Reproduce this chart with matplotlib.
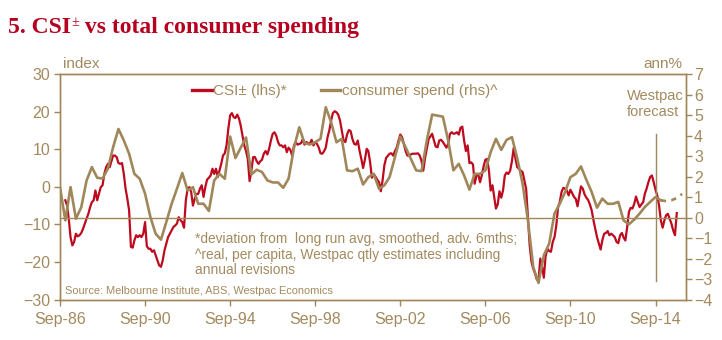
import datetime as dt

import numpy as np
import pandas as pd
import matplotlib
matplotlib.use('Agg')
import matplotlib.pyplot as plt
import matplotlib.dates as mdates

# colours
red = '#BE0A1E'
tan = '#A0875A'
txt = '#A38A5E'
title_red = '#B5001F'

# CSI, deviation from long run avg (lhs), monthly from Dec-86
csi = [
    -3.6, -5.0, -8.9, -13.4, -15.6, -14.7, -12.5, -13.2, -12.9, -12.3,
    -11.2, -9.8, -8.5, -7.2, -5.4, -4.1, -3.6, -1.0, -3.6, -1.9,
    -0.1, 0.4, 3.4, 5.2, 6.1, 5.2, 6.8, 8.3, 8.3, 7.9,
    6.3, 6.1, 6.3, 3.4, -0.5, -3.2, -6.3, -16.0, -16.2, -14.3,
    -12.9, -13.4, -12.9, -13.4, -12.5, -9.4, -15.8, -16.5, -16.5, -17.3,
    -16.9, -18.2, -19.6, -20.9, -21.3, -19.6, -16.9, -15.1, -13.4, -12.5,
    -11.6, -10.7, -10.3, -9.8, -8.1, -8.9, -9.4, -10.9, -3.6, -0.5,
    -0.1, -1.4, -5.0, -3.2, -1.9, -1.9, -0.5, 0.4, -2.7, -0.1,
    1.9, 2.4, 3.0, 4.8, 3.4,
    # Dec-93 on
    4.8, 2.6, 4.3, 6.1, 8.3, 8.9, 11.0, 15.5, 19.0, 19.6,
    18.5, 18.3, 19.2, 18.1, 16.3, 13.6, 11.0, 9.5, 7.4, 1.5,
    4.3, 7.9, 7.9, 6.8, 6.1, 6.8, 7.2, 8.8, 9.5, 8.6,
    10.1, 12.3, 14.1, 14.5, 13.6, 11.9, 11.0, 11.0, 10.5, 11.0,
    9.2, 10.4, 9.8, 8.3, 11.0, 11.9, 11.2, 11.4, 11.6, 12.7,
    11.2, 11.9, 11.6, 11.4, 12.5, 11.0, 11.9, 11.4, 10.4, 8.9,
    8.8, 9.5, 10.4, 13.2, 15.0, 17.6, 19.6, 20.1, 19.8, 19.2,
    17.6, 15.0, 12.3, 11.9, 13.9, 15.1, 14.8, 12.7, 11.4, 11.2,
    12.3, 9.6, 7.4, 5.0, 7.2, 10.1, 9.5,
    # Apr-01 on
    6.5, 2.4, 3.4, 2.7, 1.9, 1.2, -1.2, 1.7, 5.7, 7.7,
    8.3, 8.8, 8.9, 8.3, 9.5, 10.4, 12.3, 13.9, 13.2, 11.4,
    9.5, 8.3, 8.3, 8.6, 8.8, 8.8, 8.8, 8.9, 8.3, 6.8,
    4.3, 7.7, 10.1, 12.7, 13.4, 14.1, 12.3, 10.7, 10.5, 12.3,
    12.5, 11.9, 11.2, 10.4, 11.4, 14.1, 14.5, 14.1, 14.2, 14.5,
    13.9, 15.7, 16.0, 12.3, 9.5, 11.0, 6.3, 6.5, 5.9, 0.8,
    3.0, 3.4, 1.2, 3.0, 5.4, 7.2, 7.4, 4.3, -1.0, 0.4,
    -2.9, -5.8, -4.7, -1.2, -2.9, -1.0, 3.0, 3.8, 3.4, 4.3,
    6.8, 10.4, 7.4, 5.2, 4.8,
    # May-08 on
    4.3, 3.9, 1.7, -0.5, -8.1, -15.6, -20.0, -21.8, -23.1, -24.7,
    -25.0, -19.1, -21.3, -24.2, -18.5, -16.5, -17.1, -17.3, -14.7, -13.4,
    -10.3, -5.4, -4.1, -1.4, -0.3, -0.5, -1.0, -2.3, -0.8, -1.7,
    -2.7, -3.2, -5.2, -2.3, 0.1, -0.5, -2.0, -2.9, -3.5, -4.7,
    -6.3, -8.9, -11.2, -13.4, -15.1, -16.7, -14.3, -12.5, -12.3, -11.8,
    -12.9, -12.5, -12.9, -13.4, -14.7, -15.0, -12.9, -12.3, -13.5, -14.3,
    -10.9, -6.7, -5.6, -5.8, -4.5, -2.6, -4.1, -5.4, -4.7, -4.1,
    -1.9, -0.5, 1.2, 2.6, 3.0, 1.2, -0.8, -2.3, -5.0, -8.9,
    -10.9, -8.9, -7.6, -7.2, -8.5, -9.8, -11.6, -12.9, -7.0,
]

# consumer spending, ann% (rhs), quarterly from Sep-86
spend = [
    1.48, -0.14, 1.48, -0.06, 0.50, 1.80, 2.46, 1.94, 1.90, 2.38,
    3.43, 4.32, 3.76, 3.11, 2.13, 1.89, 1.16, 0.03, -0.79, -1.08,
    -0.22, 0.67, 1.40, 2.17, 1.32, 1.48, 0.67, 0.67, 0.32, 1.81,
    2.13, 1.89, 3.95, 2.90, 3.40, 3.90, 2.10, 2.33, 2.22, 1.81,
    1.71, 1.71, 1.45, 1.90, 3.40, 4.40, 3.63, 3.56, 3.67, 3.84,
    5.38, 4.65, 3.67, 3.84, 2.30, 2.26, 2.38, 1.61, 1.97, 2.13,
    1.40, 1.57, 1.97, 2.94, 3.95, 3.43, 2.86, 2.30, 2.26, 3.76,
    5.02, 4.97, 4.92, 3.76, 2.30, 2.62, 2.05, 1.36, 2.13, 2.13,
    2.30, 3.19, 3.84, 3.30, 3.79, 3.92, 2.90, 1.65, -0.14, -2.41,
    -3.19, -1.84, -1.27, 0.19, 0.67, 1.24, 1.97, 2.13, 2.49, 1.84,
    1.24, 0.48, 0.92, 0.67, 0.67, 0.76, -0.14, -0.33, -0.10, 0.19,
    0.51, 0.76, 1.00, 0.84,
]
# Westpac forecast, quarterly from Dec-14
spend_fcst = [0.84, 0.80, 0.84, 0.95, 1.15]

csi_dates = pd.date_range('1986-12-01', periods=len(csi), freq='MS')
spend_dates = pd.date_range('1986-09-01', periods=len(spend), freq='3MS')
fcst_dates = pd.date_range(spend_dates[-1], periods=len(spend_fcst), freq='3MS')
fcst_start = dt.datetime(2014, 9, 1)

tick_years = list(range(1986, 2015, 4))
x_ticks = [dt.datetime(y, 9, 1) for y in tick_years]

plt.rcParams['font.family'] = ['Liberation Sans', 'DejaVu Sans']

fig = plt.figure(figsize=(7.22, 3.40), dpi=100)
ax = fig.add_axes([0.0831, 0.1191, 0.8666, 0.6632])
ax2 = ax.twinx()

ax.plot(csi_dates, csi, color=red, lw=1.6, label='CSI\u00b1 (lhs)*')
ax2.plot(spend_dates, spend, color=tan, lw=1.9, label='consumer spend (rhs)^')
ax2.plot(fcst_dates, spend_fcst, color=tan, lw=1.9, ls=(0, (2.0, 2.0)))

ax2.axhline(0, color=tan, lw=1.0)
ax2.plot([fcst_start, fcst_start], [-3.1, 4.05], color=tan, lw=1.0)

ax.set_ylim(-30, 30)
ax.set_yticks(range(-30, 31, 10))
ax2.set_ylim(-4, 7)
ax2.set_yticks(range(-4, 8))
ax.set_xlim(dt.datetime(1986, 9, 1), dt.datetime(2016, 2, 1))
ax.set_xticks(x_ticks)
ax.xaxis.set_major_formatter(mdates.DateFormatter('%b-%y'))

for a in (ax, ax2):
    for s in a.spines.values():
        s.set_color(tan)
        s.set_linewidth(1.0)
    a.tick_params(colors=tan, labelcolor=txt, length=4, width=1.0,
                  labelsize=11.5)
ax.tick_params(axis='y', pad=3)
ax.tick_params(axis='x', pad=5)
ax2.tick_params(axis='y', pad=2)

h1, l1 = ax.get_legend_handles_labels()
h2, l2 = ax2.get_legend_handles_labels()
leg = ax2.legend(h1 + h2, l1 + l2, loc='center', bbox_to_anchor=(0.455, 0.925),
                 ncol=2, frameon=False, fontsize=11, handlelength=1.3,
                 handletextpad=0.1, columnspacing=2.2)
for t in leg.get_texts():
    t.set_color(txt)
for ln in leg.get_lines():
    ln.set_linewidth(2.4)

fig.text(63 / 722, 1 - 68 / 340, 'index', color=txt, fontsize=11, va='baseline')
fig.text(682 / 722, 1 - 68 / 340, 'ann%', color=txt, fontsize=11,
         va='baseline', ha='right')
fig.text(627 / 722, 1 - 89 / 340, 'Westpac\nforecast', color=txt, fontsize=10.5,
         va='top', ha='left', linespacing=1.15)
fig.text(195 / 722, 1 - 232 / 340,
         '*deviation from  long run avg, smoothed, adv. 6mths;\n'
         '^real, per capita, Westpac qtly estimates including\n'
         'annual revisions',
         color=txt, fontsize=9.9, va='top', ha='left', linespacing=1.15)
fig.text(65 / 722, 1 - 291 / 340,
         'Source: Melbourne Institute, ABS, Westpac Economics',
         color=txt, fontsize=7.9, va='center', ha='left')

# title, with a raised ± after CSI
t1 = fig.text(8 / 722, 1 - 33 / 340, '5. CSI', color=title_red, fontsize=17,
              fontweight='bold', family='Liberation Serif', va='baseline')
t2 = ax.annotate('\u00b1', xy=(1, 0.45), xycoords=t1, va='bottom', ha='left',
                 color=title_red, fontsize=10, family='Liberation Serif',
                 annotation_clip=False)
ax.annotate(' vs total consumer spending', xy=(1, 0), xycoords=(t2, t1),
            va='bottom', ha='left', color=title_red, fontsize=17,
            fontweight='bold', family='Liberation Serif', annotation_clip=False)

fig.savefig('out.png', dpi=100)
